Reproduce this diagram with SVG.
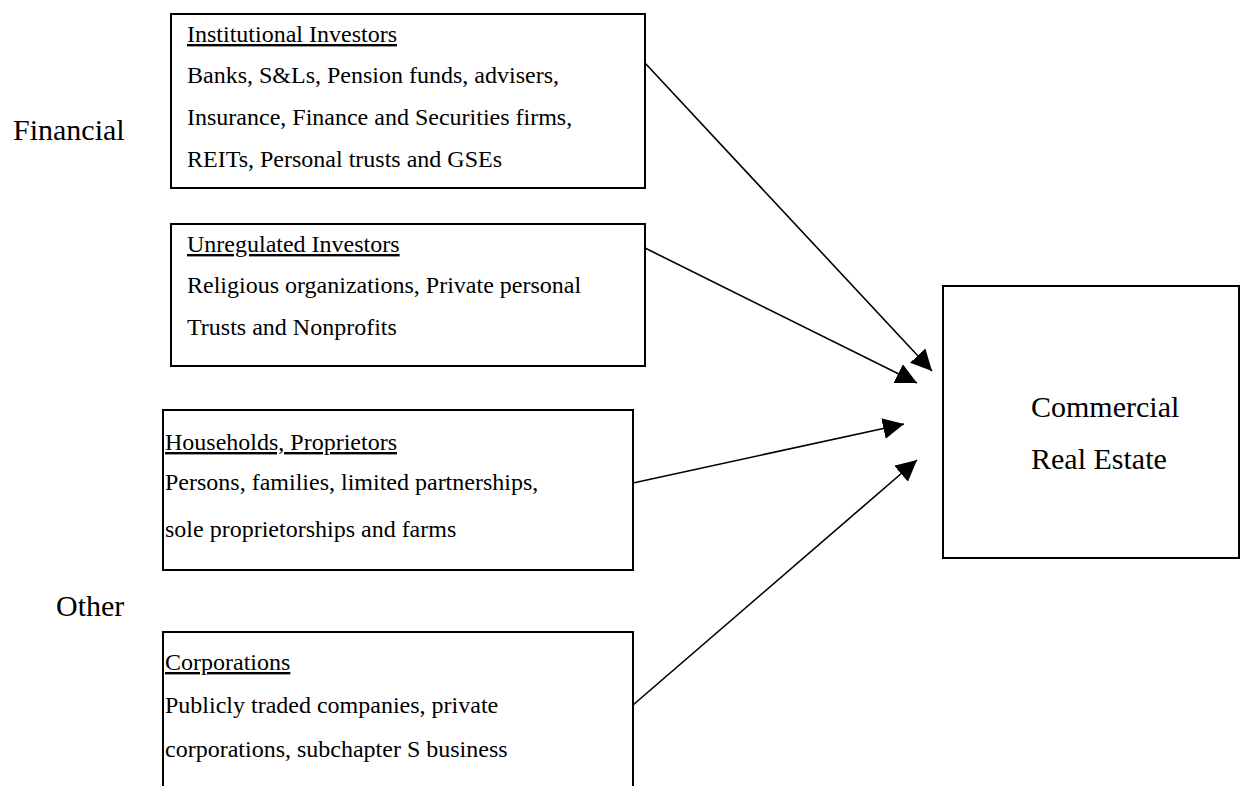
<svg xmlns="http://www.w3.org/2000/svg" width="1255" height="786" viewBox="0 0 1255 786">
  <style>
    .box { fill: #fff; stroke: #000; stroke-width: 2; }
    .t { font-family: "Liberation Serif", "Times New Roman", serif; font-size: 24px; fill: #000; }
    .h { text-decoration: underline; }
    .lbl { font-family: "Liberation Serif", "Times New Roman", serif; font-size: 30px; fill: #000; }
    .conn { stroke: #000; stroke-width: 1.6; fill: none; }
  </style>
  <defs>
    <marker id="arr" markerUnits="userSpaceOnUse" viewBox="0 0 21 21" refX="21" refY="10.5" markerWidth="21" markerHeight="21" orient="auto">
      <path d="M0,0 L21,10.5 L0,21 z" fill="#000"/>
    </marker>
  </defs>
  <rect width="1255" height="786" fill="#fff"/>

  <g id="label-financial"><text class="lbl" x="13" y="140">Financial</text></g>
  <g id="label-other"><text class="lbl" x="56" y="616">Other</text></g>

  <g id="institutional">
    <rect class="box" x="171" y="14" width="474" height="174"/>
    <text class="t h" x="187" y="42">Institutional Investors</text>
    <text class="t" x="187" y="83">Banks, S&amp;Ls, Pension funds, advisers,</text>
    <text class="t" x="187" y="125">Insurance, Finance and Securities firms,</text>
    <text class="t" x="187" y="167">REITs, Personal trusts and GSEs</text>
  </g>

  <g id="unregulated">
    <rect class="box" x="171" y="224" width="474" height="142"/>
    <text class="t h" x="187" y="252">Unregulated Investors</text>
    <text class="t" x="187" y="293">Religious organizations, Private personal</text>
    <text class="t" x="187" y="335">Trusts and Nonprofits</text>
  </g>

  <g id="households">
    <rect class="box" x="163" y="410" width="470" height="160"/>
    <text class="t h" x="165" y="450">Households, Proprietors</text>
    <text class="t" x="165" y="490">Persons, families, limited partnerships,</text>
    <text class="t" x="165" y="537">sole proprietorships and farms</text>
  </g>

  <g id="corporations">
    <rect class="box" x="163" y="632" width="470" height="200"/>
    <text class="t h" x="165" y="670">Corporations</text>
    <text class="t" x="165" y="713">Publicly traded companies, private</text>
    <text class="t" x="165" y="757">corporations, subchapter S business</text>
  </g>

  <g id="commercial-real-estate">
    <rect class="box" x="943" y="286" width="296" height="272"/>
    <text class="lbl" x="1031" y="417">Commercial</text>
    <text class="lbl" x="1031" y="469">Real Estate</text>
  </g>

  <g id="connectors">
    <path class="conn" d="M645,63 L932,371" marker-end="url(#arr)"/>
    <path class="conn" d="M645,248 L917,383" marker-end="url(#arr)"/>
    <path class="conn" d="M633,483 L904,424" marker-end="url(#arr)"/>
    <path class="conn" d="M633,705 L917,460" marker-end="url(#arr)"/>
  </g>
</svg>
